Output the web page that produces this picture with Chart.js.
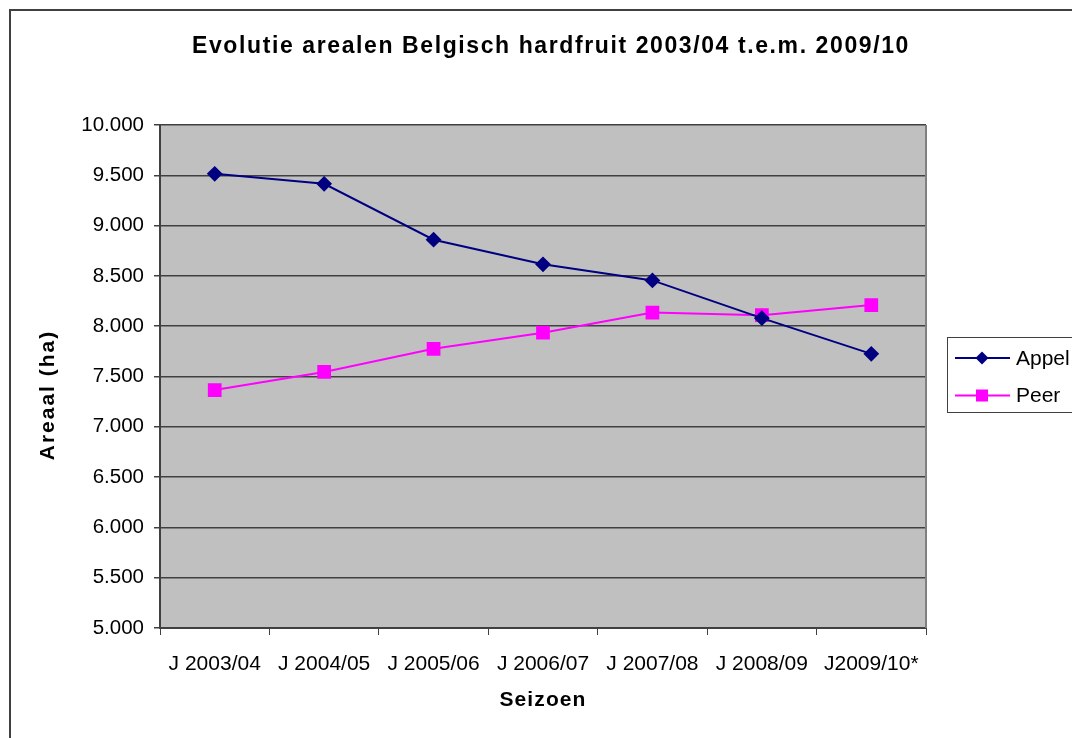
<!DOCTYPE html>
<html>
<head>
<meta charset="utf-8">
<title>Evolutie arealen Belgisch hardfruit</title>
<script src="https://cdn.jsdelivr.net/npm/chart.js@4.4.1/dist/chart.umd.min.js"></script>
<style>
  html, body { margin: 0; padding: 0; background: #fff; }
  #wrap { width: 1072px; height: 738px; }
</style>
</head>
<body>
<div id="wrap"><canvas id="fruitChart"></canvas></div>
<script>
// data
var seasons = ['J 2003/04', 'J 2004/05', 'J 2005/06', 'J 2006/07', 'J 2007/08', 'J 2008/09', 'J2009/10*'];
var appel = [9515, 9415, 8860, 8615, 8455, 8080, 7725];
var peer = [7365, 7545, 7775, 7935, 8135, 8110, 8210];
var yTicks = [5000, 5500, 6000, 6500, 7000, 7500, 8000, 8500, 9000, 9500, 10000];

var chartTitle = 'Evolutie arealen Belgisch hardfruit 2003/04 t.e.m. 2009/10';
var xTitle = 'Seizoen';
var yTitle = 'Areaal (ha)';
var FONT = 'Arial, "Liberation Sans", sans-serif';

function fmt(v) {
    // Dutch thousands separator
    var s = String(v);
    return s.length > 3 ? s.slice(0, s.length - 3) + '.' + s.slice(-3) : s;
}

// background, frame, titles and legend
var decor = {
    id: 'decor',
    beforeDraw: function(chart) {
        var ctx = chart.ctx, a = chart.chartArea;
        ctx.save();
        ctx.fillStyle = '#fff';
        ctx.fillRect(0, 0, chart.width, chart.height);
        ctx.strokeStyle = '#404040';
        ctx.lineWidth = 2;
        ctx.strokeRect(10, 10, chart.width + 20, chart.height + 20);
        ctx.fillStyle = '#c0c0c0';
        ctx.fillRect(a.left, a.top, a.right - a.left, a.bottom - a.top);
        ctx.restore();
    },
    afterDraw: function(chart) {
        var ctx = chart.ctx, a = chart.chartArea;
        ctx.save();
        // right edge of plot
        ctx.strokeStyle = '#808080';
        ctx.lineWidth = 2;
        ctx.beginPath();
        ctx.moveTo(a.right, a.top);
        ctx.lineTo(a.right, a.bottom);
        ctx.stroke();

        // titles
        ctx.fillStyle = '#000';
        ctx.textAlign = 'center';
        ctx.textBaseline = 'middle';
        ctx.font = 'bold 23px ' + FONT;
        ctx.letterSpacing = '1.6px';
        ctx.fillText(chartTitle, 551, 47);

        ctx.font = 'bold 21px ' + FONT;
        ctx.letterSpacing = '1.1px';
        ctx.fillText(xTitle, (a.left + a.right) / 2, 700);

        ctx.letterSpacing = '2px';
        ctx.save();
        ctx.translate(48, 395);
        ctx.rotate(-Math.PI / 2);
        ctx.fillText(yTitle, 0, 0);
        ctx.restore();
        ctx.letterSpacing = '0px';

        // legend
        ctx.strokeStyle = '#404040';
        ctx.lineWidth = 1;
        ctx.strokeRect(947.5, 337.5, 140, 75);
        ctx.font = '21px ' + FONT;
        ctx.textAlign = 'left';
        chart.data.datasets.forEach(function(ds, i) {
            var y = 358 + i * 37.5;
            ctx.strokeStyle = ds.borderColor;
            ctx.lineWidth = 2;
            ctx.beginPath();
            ctx.moveTo(955, y);
            ctx.lineTo(1010, y);
            ctx.stroke();
            ctx.fillStyle = ds.borderColor;
            ctx.beginPath();
            if (ds.pointStyle === 'rectRot') {
                ctx.moveTo(982, y - 6.5);
                ctx.lineTo(988.5, y);
                ctx.lineTo(982, y + 6.5);
                ctx.lineTo(975.5, y);
                ctx.closePath();
            } else {
                ctx.rect(976, y - 6, 12, 12);
            }
            ctx.fill();
            ctx.fillStyle = '#000';
            ctx.fillText(ds.label, 1016, y + 1);
        });
        ctx.restore();
    }
};

var ctx = document.getElementById('fruitChart').getContext('2d');

var fruitChart = new Chart(ctx, {
    type: 'line',
    data: {
        labels: seasons,
        datasets: [{
            label: 'Appel',
            data: appel,
            borderColor: '#000080',
            backgroundColor: '#000080',
            borderWidth: 2,
            pointStyle: 'rectRot',
            pointRadius: 6.5,
            pointHoverRadius: 6.5,
            tension: 0
        }, {
            label: 'Peer',
            data: peer,
            borderColor: '#ff00ff',
            backgroundColor: '#ff00ff',
            borderWidth: 2,
            pointStyle: 'rect',
            pointRadius: 8.3,
            pointHoverRadius: 8.3,
            tension: 0
        }]
    },
    options: {
        responsive: true,
        maintainAspectRatio: false,
        animation: false,
        layout: { padding: { top: 125, right: 146, bottom: 0, left: 0 } },
        plugins: {
            legend: { display: false },
            title: { display: false },
            tooltip: { enabled: false }
        },
        scales: {
            x: {
                offset: true,
                grid: {
                    offset: true,
                    drawOnChartArea: false,
                    drawTicks: true,
                    tickLength: 7,
                    color: '#404040',
                    lineWidth: 1
                },
                border: { color: '#404040', width: 2 },
                ticks: {
                    color: '#000',
                    font: { family: FONT, size: 21 },
                    padding: 17,
                    maxRotation: 0,
                    autoSkip: false
                },
                afterFit: function(scale) { scale.height = 110; }
            },
            y: {
                min: 5000,
                max: 10000,
                afterBuildTicks: function(scale) {
                    scale.ticks = yTicks.map(function(v) { return { value: v }; });
                },
                grid: {
                    color: '#404040',
                    lineWidth: 1.5,
                    tickLength: 6
                },
                border: { color: '#404040', width: 2 },
                ticks: {
                    color: '#000',
                    font: { family: FONT, size: 20.5 },
                    padding: 10,
                    callback: function(v) { return fmt(v); }
                },
                afterFit: function(scale) { scale.width = 160; }
            }
        }
    },
    plugins: [decor]
});
</script>
</body>
</html>
